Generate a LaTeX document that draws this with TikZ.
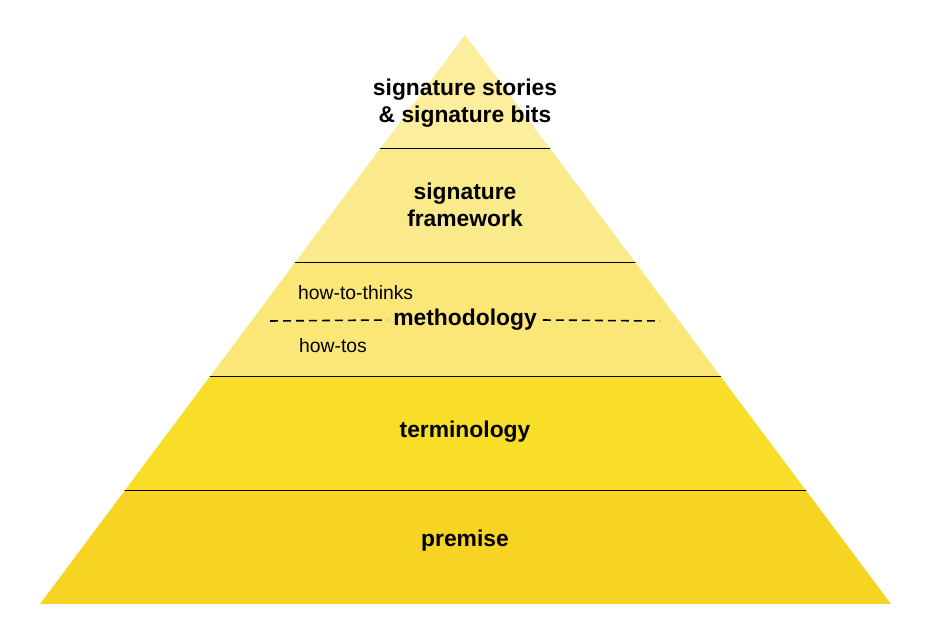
\documentclass[tikz,border=0pt]{standalone}
\usepackage{fontspec}
\setmainfont{Liberation Sans}
\definecolor{bandA}{HTML}{FCEE9D}
\definecolor{bandB}{HTML}{FBEA8C}
\definecolor{bandC}{HTML}{FBE678}
\definecolor{bandD}{HTML}{F8DE28}
\definecolor{bandE}{HTML}{F7D323}
\tikzstyle{title}=[font=\fontsize{13}{15.5}\selectfont\bfseries,align=center]
\tikzstyle{sublabel}=[font=\fontsize{11}{13}\selectfont,anchor=west]
\tikzstyle{bandline}=[black,line width=0.5pt]
\tikzstyle{splitline}=[black,line width=0.9pt,dash pattern=on 0.16cm off 0.1cm]
\begin{document}
\begin{tikzpicture}[x=0.02cm,y=-0.02cm]
\useasboundingbox (0,0) rectangle (945,638);
\coordinate (apex) at (465,35);
\coordinate (bl) at (40,604);
\coordinate (br) at (891,604);
\begin{scope}
	\clip (apex) -- (bl) -- (br) -- cycle;
	\fill[bandA] (0,0) rectangle (945,148);
	\fill[bandB] (0,148) rectangle (945,262);
	\fill[bandC] (0,262) rectangle (945,376);
	\fill[bandD] (0,376) rectangle (945,490);
	\fill[bandE] (0,490) rectangle (945,604);
	\foreach \y in {148,262,376,490} {
		\draw[bandline] (0,\y) -- (945,\y);
	}
\end{scope}
\node[title] (bits) at (465,103) {signature stories\\\& signature bits};
\node[title] (framework) at (465,205) {signature\\framework};
\node[title] (method) at (465,320) {methodology};
\node[sublabel] (thinks) at (292,293) {how-to-thinks};
\node[sublabel] (howtos) at (293,346) {how-tos};
\node[title] (term) at (465,432) {terminology};
\node[title] (premise) at (465,541) {premise};
\coordinate (dl) at (270,321);
\coordinate (dr) at (660,321);
\draw[splitline] (dl) -- (method.west);
\draw[splitline] (method.east) -- (dr);
\end{tikzpicture}
\end{document}
